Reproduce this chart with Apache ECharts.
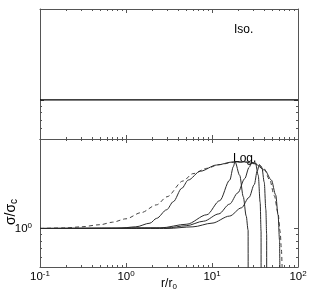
<!DOCTYPE html>
<html>
<head>
<meta charset="utf-8">
<script src="https://cdn.jsdelivr.net/npm/echarts@6/dist/echarts.min.js"></script>
<style>html,body{margin:0;padding:0;background:#fff}#c{width:310px;height:301px}</style>
</head>
<body>
<div id="c"></div>
<script>
// ---- data (r/r0, sigma/sigma_c) ----
const rIso = [0.1, 100];
const sIso = [1, 1];

const rDash = [0.1, 0.2, 0.3, 0.5, 0.7, 1.0, 1.5, 2.27, 3.0, 4.6, 6.0, 8.7, 12, 17.9, 25, 33, 40, 47, 53, 58.6, 62, 64, 66, 66.5];
const sDash = [1.0, 1.01, 1.03, 1.07, 1.12, 1.19, 1.33, 1.53, 1.77, 2.35, 2.68, 2.95, 3.15, 3.29, 3.3, 3.23, 2.95, 2.39, 1.8, 1.32, 0.95, 0.7, 0.45, 0.01];

const rB = [0.1, 0.8, 1.3, 1.9, 2.27, 2.97, 3.55, 4.45, 5.3, 7.3, 11.3, 17.5, 24, 31.5, 41, 49, 55, 58.7, 61, 61.6, 61.7];
const sB = [1.0, 1.0, 1.03, 1.1, 1.2, 1.4, 1.62, 2.06, 2.39, 2.8, 3.13, 3.31, 3.31, 3.2, 2.86, 2.39, 1.83, 1.27, 0.81, 0.5, 0.01];

const rC = [0.1, 2.5, 5.1, 8.7, 12.3, 16.1, 17.7, 18.5, 21, 23.1, 25, 26.3, 26.4];
const sC = [1.0, 1.01, 1.08, 1.28, 1.65, 2.39, 3.04, 3.32, 2.6, 1.77, 1.25, 0.97, 0.01];

const rD = [0.1, 3, 5, 8, 12, 16, 20, 24, 27, 29, 32, 34.5, 36.3, 37.2, 37.3];
const sD = [1.0, 1.01, 1.05, 1.14, 1.3, 1.55, 1.9, 2.45, 3.0, 3.28, 3.25, 2.6, 1.6, 0.95, 0.01];

const rE = [0.1, 3, 6, 10, 16, 22, 27, 31, 33.5, 35.5, 38, 40.5, 42.3, 43.2, 43.3];
const sE = [1.0, 1.0, 1.03, 1.1, 1.25, 1.45, 1.75, 2.2, 2.8, 3.15, 3.0, 2.3, 1.4, 0.9, 0.01];

const xMin = 0.1, xMax = 100, yMin = 0.5, yMax = 5;
const xMinorTicks = [0.2,0.3,0.4,0.5,0.6,0.7,0.8,0.9,2,3,4,5,6,7,8,9,20,30,40,50,60,70,80,90];
const yMinorTicks = [0.6, 0.7, 0.8, 0.9];

const zip = (a, b) => a.map((v, i) => [v, b[i]]);
const FONT = 'Liberation Sans, Arial, sans-serif';
const AX = '#555';

function logX(grid, pos, labels) {
  return {
    type: 'log', gridIndex: grid, position: pos, min: xMin, max: xMax, logBase: 10,
    axisLine: { show: true, onZero: false, lineStyle: { color: AX, width: 1 } },
    axisTick: { show: true, inside: true, length: 4, lineStyle: { color: AX } },
    splitLine: { show: false },
    axisLabel: labels ? {
      show: true, margin: 3, fontFamily: FONT,
      formatter: v => { const e = Math.round(Math.log10(v)); return '{b|10}{s|' + e + '}'; },
      rich: {
        b: { fontSize: 11.5, fontFamily: FONT, color: '#000', lineHeight: 14 },
        s: { fontSize: 8, fontFamily: FONT, color: '#000', lineHeight: 9, verticalAlign: 'top' }
      }
    } : { show: false },
    name: labels ? '{a|r/r}{s|0}' : '',
    nameLocation: 'middle', nameGap: 10, nameMoveOverlap: false,
    nameTextStyle: {
      rich: {
        a: { fontSize: 12, fontFamily: FONT, color: '#000', lineHeight: 14 },
        s: { fontSize: 8, fontFamily: FONT, color: '#000', lineHeight: 6, verticalAlign: 'bottom' }
      }
    }
  };
}
function minorX(grid, pos) {
  return {
    type: 'value', gridIndex: grid, position: pos,
    min: Math.log10(xMin), max: Math.log10(xMax),
    axisLine: { show: false, onZero: false },
    axisTick: { show: true, inside: true, length: 2, lineStyle: { color: AX },
      customValues: xMinorTicks.map(v => Math.log10(v)) },
    axisLabel: { show: false }, splitLine: { show: false }
  };
}
function logY(grid, pos, labels) {
  return {
    type: 'log', gridIndex: grid, position: pos, min: yMin, max: yMax, logBase: 10,
    axisLine: { show: true, onZero: false, lineStyle: { color: AX, width: 1 } },
    axisTick: { show: true, inside: true, length: 4, lineStyle: { color: AX } },
    splitLine: { show: false },
    axisLabel: labels ? {
      show: true, margin: 8, showMinLabel: false, showMaxLabel: false,
      formatter: v => (Math.abs(v - 1) < 1e-6 ? '{b|10}{s|0}' : ''),
      rich: {
        b: { fontSize: 11.5, fontFamily: FONT, color: '#000', lineHeight: 14 },
        s: { fontSize: 8, fontFamily: FONT, color: '#000', lineHeight: 9, verticalAlign: 'top' }
      }
    } : { show: false },
    name: labels ? '{a|σ/σ}{s|c}' : '',
    nameLocation: 'middle', nameGap: 21, nameRotate: 90, nameMoveOverlap: false,
    nameTextStyle: {
      padding: [0, 18, 0, 0],
      rich: {
        a: { fontSize: 14, fontFamily: FONT, color: '#000', lineHeight: 15 },
        s: { fontSize: 10, fontFamily: FONT, color: '#000', lineHeight: 7, verticalAlign: 'bottom' }
      }
    }
  };
}
function minorY(grid, pos) {
  return {
    type: 'value', gridIndex: grid, position: pos,
    min: Math.log10(yMin), max: Math.log10(yMax),
    axisLine: { show: false, onZero: false },
    axisTick: { show: true, inside: true, length: 2, lineStyle: { color: AX },
      customValues: yMinorTicks.map(v => Math.log10(v)) },
    axisLabel: { show: false }, splitLine: { show: false }
  };
}

const CURVE = '#2a2a2a';
function curve(r, s, dashed) {
  return {
    type: 'line', xAxisIndex: 2, yAxisIndex: 2, data: zip(r, s),
    symbol: 'none', smooth: 0.3, smoothMonotone: 'x', clip: true, silent: true,
    lineStyle: { color: dashed ? '#444' : CURVE, width: 1, type: dashed ? [4, 3] : 'solid' }
  };
}

const chart = echarts.init(document.getElementById('c'), null, { renderer: 'canvas' });
chart.setOption({
  animation: false,
  backgroundColor: '#fff',
  grid: [
    { left: 40, right: 12, top: 9, height: 130, containLabel: false, outerBoundsMode: 'none' },
    { left: 40, right: 12, top: 139, height: 128, containLabel: false, outerBoundsMode: 'none' }
  ],
  xAxis: [
    logX(0, 'bottom', false), logX(0, 'top', false),
    logX(1, 'bottom', true), logX(1, 'top', false),
    minorX(0, 'bottom'), minorX(0, 'top'), minorX(1, 'bottom'), minorX(1, 'top')
  ],
  yAxis: [
    logY(0, 'left', false), logY(0, 'right', false),
    logY(1, 'left', true), logY(1, 'right', false),
    minorY(0, 'left'), minorY(0, 'right'), minorY(1, 'left'), minorY(1, 'right')
  ],
  series: [
    { type: 'line', xAxisIndex: 0, yAxisIndex: 0, data: zip(rIso, sIso), symbol: 'none', silent: true,
      lineStyle: { color: '#000', width: 1.3 } },
    curve(rDash, sDash, true),
    curve(rB, sB, false),
    curve(rC, sC, false),
    curve(rD, sD, false),
    curve(rE, sE, false)
  ],
  graphic: [
    { type: 'text', left: 234, top: 24, style: { text: 'Iso.', font: '12px ' + FONT, fill: '#000' } },
    { type: 'text', left: 233, top: 153, style: { text: 'Log.', font: '12px ' + FONT, fill: '#000' } }
  ]
});
</script>
</body>
</html>
